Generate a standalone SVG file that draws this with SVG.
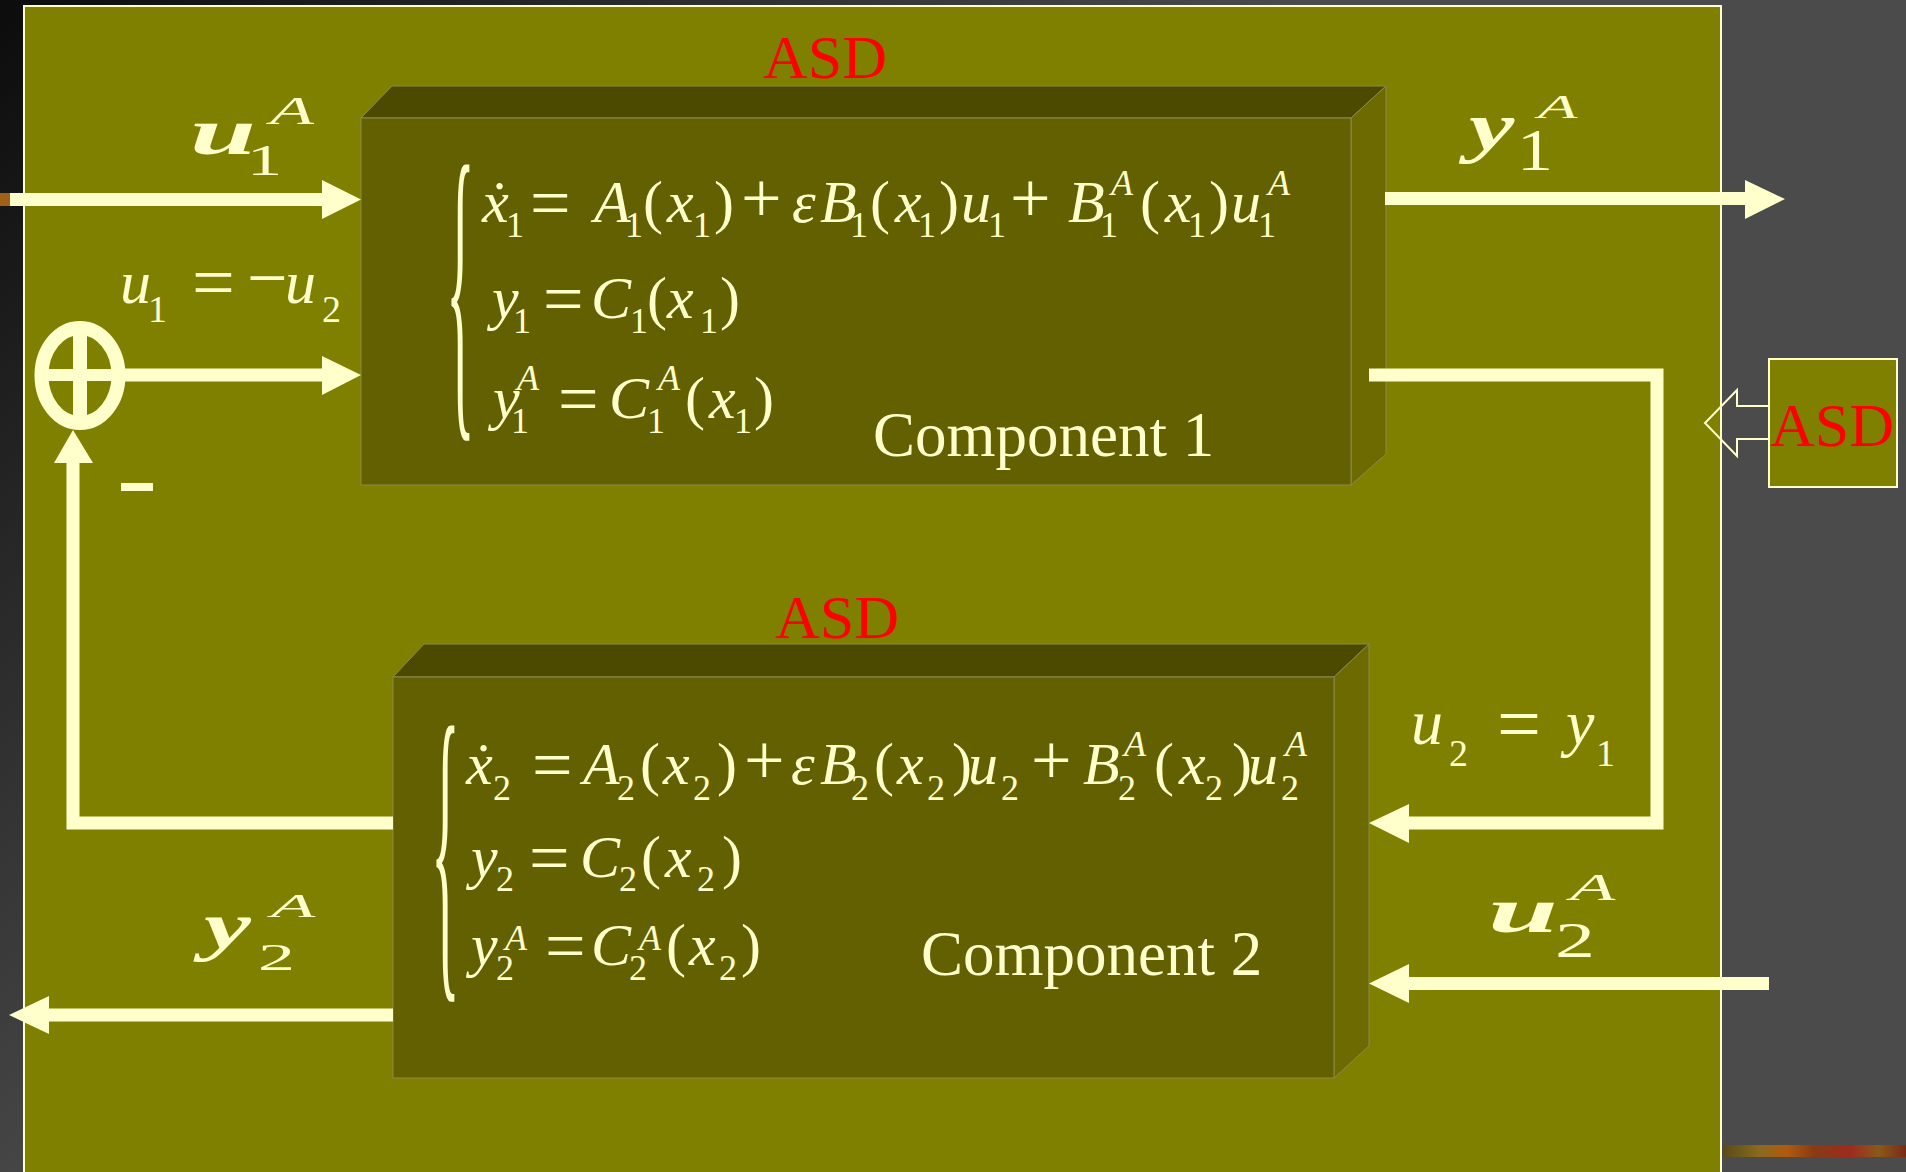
<svg xmlns="http://www.w3.org/2000/svg" width="1906" height="1172" viewBox="0 0 1906 1172">
<defs>
<linearGradient id="bg" gradientUnits="userSpaceOnUse" x1="0" y1="0" x2="650" y2="650">
<stop offset="0" stop-color="#0c0c0c"/><stop offset="1" stop-color="#4b4b4b"/>
</linearGradient>
<linearGradient id="tex" x1="0" y1="0" x2="1" y2="0">
<stop offset="0" stop-color="#5a4a18"/><stop offset="0.2" stop-color="#8a6a20"/><stop offset="0.35" stop-color="#b05a10"/><stop offset="0.5" stop-color="#8a3a14"/><stop offset="0.7" stop-color="#a02a20"/><stop offset="0.85" stop-color="#8a5a18"/><stop offset="1" stop-color="#7a2a18"/>
</linearGradient>
<style>
.eq{font-family:"Liberation Serif","Times New Roman",serif;font-size:60px;fill:#ffffcc}
.comp{font-size:63px}
.i{font-style:italic}
.s{font-size:36px}
.op{font-size:72px}
.red{font-family:"Liberation Serif","Times New Roman",serif;font-size:62px;fill:#ff0000}
.lbl{font-family:"Liberation Serif","Times New Roman",serif;fill:#ffffcc}
.line{fill:none;stroke:#ffffcc;stroke-width:13;stroke-linejoin:miter}
.head{fill:#ffffcc}
.top{fill:#4c4a00;stroke:#8c8a4a;stroke-width:1}
.front{fill:#626000;stroke:#8c8a4a;stroke-width:1}
.side{fill:#6c6a00;stroke:#8c8a4a;stroke-width:1}
</style>
</defs>

<g id="background">
<rect x="0" y="0" width="1906" height="1172" fill="url(#bg)"/>
<rect x="1723" y="0" width="183" height="1172" fill="#4b4b4b"/>
<rect x="0" y="193" width="10" height="13" fill="#a0601a"/>
<rect x="1723" y="1145" width="183" height="12" fill="url(#tex)"/>
</g>

<g id="panel">
<rect x="24" y="6" width="1697" height="1175" fill="#808000" stroke="#ffffcc" stroke-width="2"/>
</g>

<g id="asd-callout">
<rect x="1769" y="359" width="128" height="128" fill="#808000" stroke="#ffffcc" stroke-width="2"/>
<polygon points="1769,406 1737,406 1737,390 1705,423 1737,456 1737,439 1769,439" fill="none" stroke="#ffffcc" stroke-width="2"/>
<text class="red" x="1770" y="446">ASD</text>
</g>

<g id="component1">
<text class="red" x="763" y="78">ASD</text>
<polygon class="top" points="361,118 392,86 1386,86 1351,118"/>
<polygon class="side" points="1351,118 1386,86 1386,454 1351,485"/>
<rect class="front" x="361" y="118" width="990" height="367"/>
<text class="eq" transform="translate(446,396) scale(1,5.56)">{</text>
<text class="eq">
<tspan class="i" x="482" y="222">x&#x307;</tspan><tspan class="s" x="506" y="237">1</tspan><tspan class="op" x="530" y="227">=</tspan><tspan class="i" x="594" y="222">A</tspan><tspan class="s" x="625" y="237">1</tspan><tspan x="643" y="222">(</tspan><tspan class="i" x="667" y="222">x</tspan><tspan class="s" x="693" y="237">1</tspan><tspan x="714" y="222">)</tspan><tspan class="op" x="741" y="222">+</tspan><tspan class="i" x="792" y="222">ε</tspan><tspan class="i" x="820" y="222">B</tspan><tspan class="s" x="850" y="237">1</tspan><tspan x="870" y="222">(</tspan><tspan class="i" x="895" y="222">x</tspan><tspan class="s" x="918" y="237">1</tspan><tspan x="939" y="222">)</tspan><tspan class="i" x="961" y="222">u</tspan><tspan class="s" x="988" y="237">1</tspan><tspan class="op" x="1010" y="222">+</tspan><tspan class="i" x="1068" y="222">B</tspan><tspan class="s i" x="1111" y="195">A</tspan><tspan class="s" x="1100" y="237">1</tspan><tspan x="1140" y="222">(</tspan><tspan class="i" x="1165" y="222">x</tspan><tspan class="s" x="1188" y="237">1</tspan><tspan x="1209" y="222">)</tspan><tspan class="i" x="1231" y="222">u</tspan><tspan class="s" x="1258" y="237">1</tspan><tspan class="s i" x="1268" y="195">A</tspan>
</text>
<text class="eq">
<tspan class="i" x="492" y="318">y</tspan><tspan class="s" x="513" y="333">1</tspan><tspan class="op" x="543" y="323">=</tspan><tspan class="i" x="591" y="318">C</tspan><tspan class="s" x="630" y="333">1</tspan><tspan x="647" y="318">(</tspan><tspan class="i" x="667" y="318">x</tspan><tspan class="s" x="700" y="333">1</tspan><tspan x="720" y="318">)</tspan>
</text>
<text class="eq">
<tspan class="i" x="493" y="418">y</tspan><tspan class="s i" x="517" y="390">A</tspan><tspan class="s" x="511" y="433">1</tspan><tspan class="op" x="558" y="423">=</tspan><tspan class="i" x="609" y="418">C</tspan><tspan class="s i" x="658" y="390">A</tspan><tspan class="s" x="647" y="433">1</tspan><tspan x="685" y="418">(</tspan><tspan class="i" x="709" y="418">x</tspan><tspan class="s" x="734" y="433">1</tspan><tspan x="754" y="418">)</tspan>
</text>
<text class="eq comp" x="873" y="456">Component 1</text>
</g>

<g id="component2">
<text class="red" x="775" y="638">ASD</text>
<polygon class="top" points="393,677 424,644 1369,644 1334,677"/>
<polygon class="side" points="1334,677 1369,644 1369,1046 1334,1078"/>
<rect class="front" x="393" y="677" width="941" height="401"/>
<text class="eq" transform="translate(431,957) scale(1,5.56)">{</text>
<text class="eq">
<tspan class="i" x="466" y="784">x&#x307;</tspan><tspan class="s" x="493" y="800">2</tspan><tspan class="op" x="532" y="789">=</tspan><tspan class="i" x="583" y="784">A</tspan><tspan class="s" x="617" y="800">2</tspan><tspan x="640" y="784">(</tspan><tspan class="i" x="663" y="784">x</tspan><tspan class="s" x="693" y="800">2</tspan><tspan x="717" y="784">)</tspan><tspan class="op" x="744" y="784">+</tspan><tspan class="i" x="791" y="784">ε</tspan><tspan class="i" x="820" y="784">B</tspan><tspan class="s" x="851" y="800">2</tspan><tspan x="874" y="784">(</tspan><tspan class="i" x="897" y="784">x</tspan><tspan class="s" x="927" y="800">2</tspan><tspan x="952" y="784">)</tspan><tspan class="i" x="968" y="784">u</tspan><tspan class="s" x="1001" y="800">2</tspan><tspan class="op" x="1031" y="784">+</tspan><tspan class="i" x="1083" y="784">B</tspan><tspan class="s i" x="1124" y="756">A</tspan><tspan class="s" x="1118" y="800">2</tspan><tspan x="1154" y="784">(</tspan><tspan class="i" x="1179" y="784">x</tspan><tspan class="s" x="1205" y="800">2</tspan><tspan x="1232" y="784">)</tspan><tspan class="i" x="1248" y="784">u</tspan><tspan class="s" x="1281" y="800">2</tspan><tspan class="s i" x="1285" y="756">A</tspan>
</text>
<text class="eq">
<tspan class="i" x="471" y="877">y</tspan><tspan class="s" x="496" y="891">2</tspan><tspan class="op" x="529" y="882">=</tspan><tspan class="i" x="580" y="877">C</tspan><tspan class="s" x="619" y="891">2</tspan><tspan x="641" y="877">(</tspan><tspan class="i" x="665" y="877">x</tspan><tspan class="s" x="697" y="891">2</tspan><tspan x="722" y="877">)</tspan>
</text>
<text class="eq">
<tspan class="i" x="471" y="965">y</tspan><tspan class="s i" x="505" y="950">A</tspan><tspan class="s" x="496" y="980">2</tspan><tspan class="op" x="545" y="970">=</tspan><tspan class="i" x="591" y="965">C</tspan><tspan class="s i" x="639" y="950">A</tspan><tspan class="s" x="629" y="980">2</tspan><tspan x="666" y="965">(</tspan><tspan class="i" x="689" y="965">x</tspan><tspan class="s" x="719" y="980">2</tspan><tspan x="741" y="965">)</tspan>
</text>
<text class="eq comp" x="921" y="975">Component 2</text>
</g>

<g id="connectors">
<line class="line" x1="10" y1="199.5" x2="324" y2="199.5"/>
<polygon class="head" points="322,180 361,199.5 322,219"/>
<line class="line" x1="120" y1="375" x2="324" y2="375" stroke-width="12"/>
<polygon class="head" points="322,356 361,375 322,395"/>
<polyline class="line" points="393,823 73,823 73,461"/>
<polygon class="head" points="54,463 73,430 93,463"/>
<line class="line" x1="1385" y1="198.5" x2="1747" y2="198.5"/>
<polygon class="head" points="1745,180 1785,199 1745,219"/>
<polyline class="line" points="1369,375 1657,375 1657,823 1407,823"/>
<polygon class="head" points="1409,804 1369,823 1409,843"/>
<line class="line" x1="1769" y1="983.5" x2="1407" y2="983.5"/>
<polygon class="head" points="1409,964 1369,983.5 1409,1003"/>
<line class="line" x1="393" y1="1015" x2="47" y2="1015" stroke-width="12"/>
<polygon class="head" points="49,996 9,1015 49,1034"/>
</g>

<g id="sum">
<ellipse cx="80" cy="375.5" rx="38.5" ry="47.5" fill="none" stroke="#ffffcc" stroke-width="14"/>
<line x1="80" y1="328" x2="80" y2="423" stroke="#ffffcc" stroke-width="14"/>
<line x1="42" y1="375" x2="118" y2="375" stroke="#ffffcc" stroke-width="12"/>
<rect x="121" y="483" width="32" height="8" fill="#ffffcc"/>
</g>

<g id="labels">
<text class="lbl i" font-weight="bold" font-size="66" transform="translate(190,154) scale(1.8,1)">u</text>
<text class="lbl" font-size="44" transform="translate(247,175) scale(1.6,1)">1</text>
<text class="lbl i" font-size="40" transform="translate(270,124) scale(1.8,1)">A</text>

<text class="lbl i" font-weight="bold" font-size="68" transform="translate(1469,150) scale(1.5,1)">y</text>
<text class="lbl" font-size="60" transform="translate(1517,170) scale(1.2,1)">1</text>
<text class="lbl i" font-size="34" transform="translate(1538,118) scale(1.9,1)">A</text>

<text class="lbl i" font-weight="bold" font-size="63" transform="translate(1488,932) scale(2,1)">u</text>
<text class="lbl" font-size="50" transform="translate(1555,957) scale(1.6,1)">2</text>
<text class="lbl i" font-size="38" transform="translate(1570,900) scale(1.95,1)">A</text>

<text class="lbl i" font-weight="bold" font-size="66" transform="translate(204,948) scale(1.6,1)">y</text>
<text class="lbl" font-size="37" transform="translate(258,970) scale(2,1)">2</text>
<text class="lbl i" font-size="33" transform="translate(271,917) scale(2.2,1)">A</text>

<text class="lbl" font-size="62"><tspan class="i" x="120" y="303">u</tspan><tspan font-size="38" x="148" y="322">1</tspan><tspan font-size="76" x="192" y="308">=</tspan><tspan font-size="72" x="247" y="302">−</tspan><tspan class="i" x="285" y="303">u</tspan><tspan font-size="38" x="322" y="322">2</tspan></text>

<text class="lbl" font-size="64"><tspan class="i" x="1411" y="744">u</tspan><tspan font-size="38" x="1449" y="766">2</tspan><tspan font-size="78" x="1497" y="750">=</tspan><tspan class="i" x="1566" y="744">y</tspan><tspan font-size="38" x="1596" y="766">1</tspan></text>
</g>
</svg>
